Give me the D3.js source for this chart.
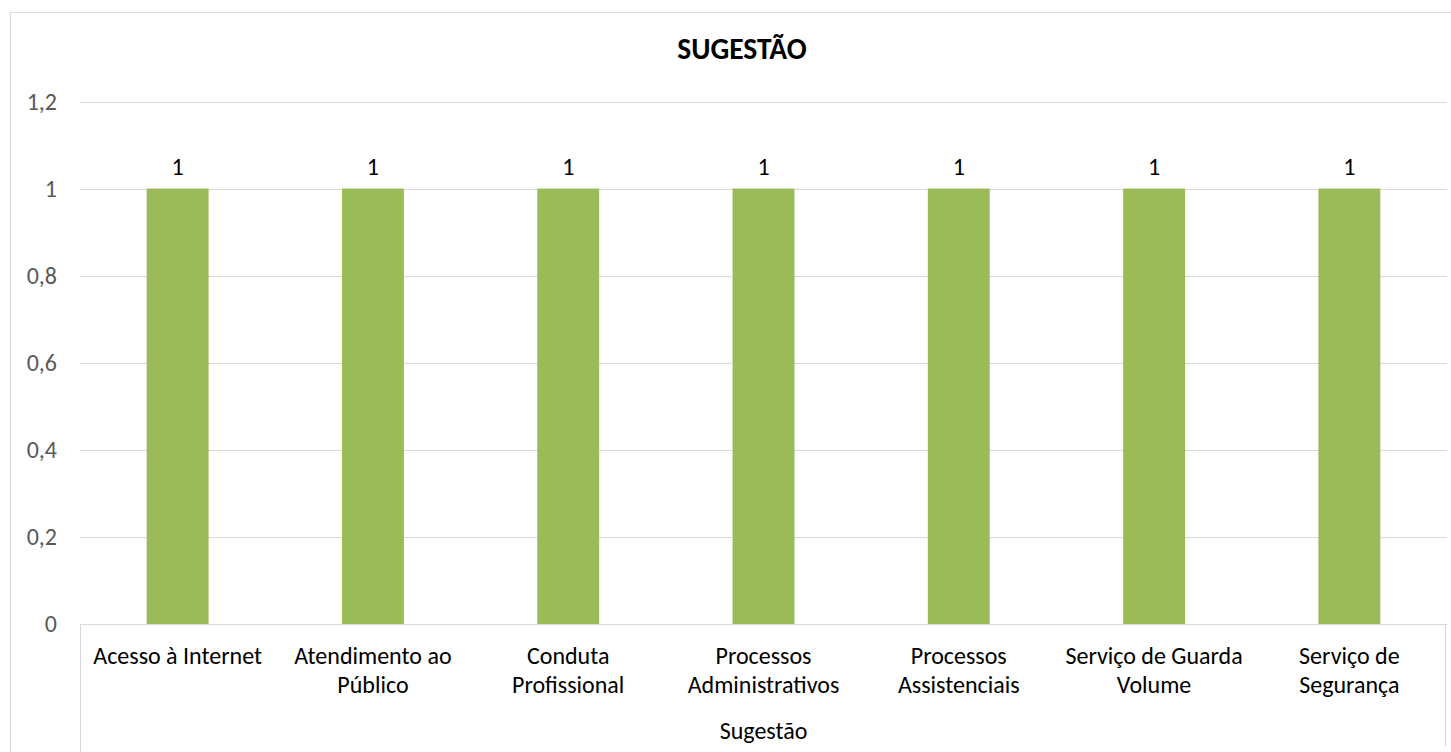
<!DOCTYPE html>
<html><head><meta charset="utf-8">
<script src="https://cdn.jsdelivr.net/npm/d3@7"></script>
<style>body{margin:0;background:#fff;}svg{display:block;}</style>
</head><body>
<script>
const categories = [["Acesso à Internet"],["Atendimento ao","Público"],["Conduta","Profissional"],["Processos","Administrativos"],["Processos","Assistenciais"],["Serviço de Guarda","Volume"],["Serviço de","Segurança"]];
const values = [1,1,1,1,1,1,1];
const yTicks = [0,0.2,0.4,0.6,0.8,1,1.2];
const title = "SUGESTÃO";
const axisTitle = "Sugestão";

const W = 1451, H = 752;
const font = "Carlito, Calibri, 'Open Sans', sans-serif";
const svg = d3.select("body").append("svg").attr("width", W).attr("height", H);

// outer chart border
svg.append("rect").attr("x",10.5).attr("y",12.5).attr("width",1460).attr("height",760)
  .attr("fill","none").attr("stroke","#d9d9d9").attr("stroke-width",1);

const x0 = 80, x1 = 1447;
const x = d3.scaleBand().domain(d3.range(categories.length)).range([x0, x1]).paddingInner(0.683).paddingOuter(0.3415);
const y = d3.scaleLinear().domain([0, 1.2]).range([624, 101.5]);

// gridlines
svg.append("g").selectAll("line").data(yTicks.filter(d=>d>0)).join("line")
  .attr("x1", x0).attr("x2", x1).attr("y1", d=>Math.round(y(d))+0.5).attr("y2", d=>Math.round(y(d))+0.5)
  .attr("stroke","#d9d9d9").attr("stroke-width",1);

// y axis labels
const yAxis = d3.axisLeft(y).tickValues(yTicks).tickSize(0).tickPadding(0)
  .tickFormat(d => d3.format(".1~f")(d).replace(".", ","));
const ga = svg.append("g").attr("transform", `translate(57,0)`).call(yAxis);
ga.select(".domain").remove();
ga.selectAll("text").attr("font-family", font).attr("font-size", 24).attr("fill", "#595959").attr("dy","0.32em");

// bars
svg.append("g").selectAll("rect").data(values).join("rect")
  .attr("x", (d,i)=>x(i)).attr("width", x.bandwidth())
  .attr("y", d=>y(d)).attr("height", d=>y(0)-y(d)).attr("fill", "#9bbb59");

// value labels
svg.append("g").selectAll("text").data(values).join("text")
  .attr("x", (d,i)=>x(i)+x.bandwidth()/2).attr("y", d=>y(d)-13.5)
  .attr("text-anchor","middle").attr("font-family", font).attr("font-size",24).attr("fill","#000")
  .text(d=>d3.format("~g")(d));

// category axis (multi-level)
const axisY = 624.5;
svg.append("line").attr("x1", x0).attr("x2", x1).attr("y1", axisY).attr("y2", axisY).attr("stroke","#d9d9d9");
svg.append("line").attr("x1", x0+0.5).attr("x2", x0+0.5).attr("y1", axisY).attr("y2", 752).attr("stroke","#d9d9d9");
svg.append("line").attr("x1", x1-1.5).attr("x2", x1-1.5).attr("y1", axisY).attr("y2", 746).attr("stroke","#d9d9d9");

const cg = svg.append("g").selectAll("text").data(categories).join("text")
  .attr("x", (d,i)=>x(i)+x.bandwidth()/2).attr("y", 664)
  .attr("text-anchor","middle").attr("font-family", font).attr("font-size",24).attr("fill","#000");
cg.selectAll("tspan").data(d=>d).join("tspan")
  .attr("x", function(){ return d3.select(this.parentNode).attr("x"); })
  .attr("dy", (d,i)=> i===0 ? 0 : 28.7).text(d=>d);

svg.append("text").attr("x", (x0+x1)/2).attr("y", 739).attr("text-anchor","middle")
  .attr("font-family", font).attr("font-size",24).attr("fill","#000").text(axisTitle);

svg.append("text").attr("x", 742).attr("y", 59).attr("text-anchor","middle")
  .attr("font-family", font).attr("font-size",29.5).attr("font-weight","bold").attr("fill","#000").text(title);
</script>
</body></html>
